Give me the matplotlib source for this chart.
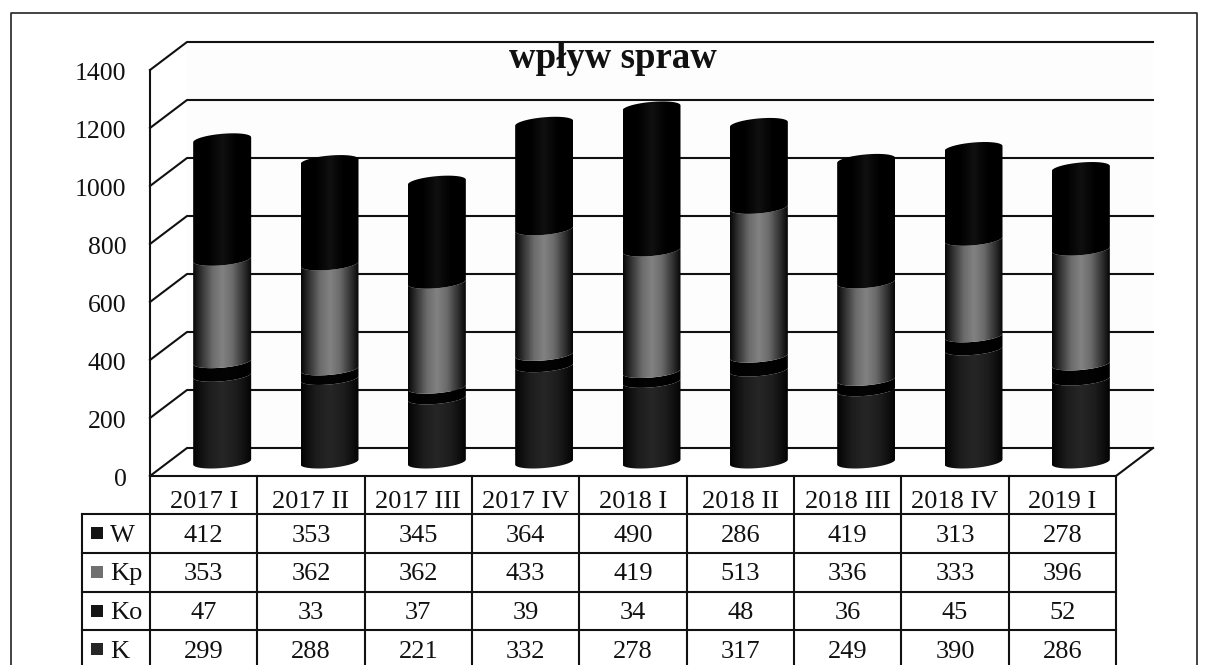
import numpy as np
import matplotlib.pyplot as plt
from matplotlib.colors import LinearSegmentedColormap
from matplotlib.patches import Polygon, Rectangle
from matplotlib.transforms import ScaledTranslation

plt.rcParams['font.family'] = ['Liberation Serif', 'DejaVu Serif']

quarters = ['2017 I', '2017 II', '2017 III', '2017 IV', '2018 I', '2018 II', '2018 III', '2018 IV', '2019 I']
w = [412, 353, 345, 364, 490, 286, 419, 313, 278]
kp = [353, 362, 362, 433, 419, 513, 336, 333, 396]
ko = [47, 33, 37, 39, 34, 48, 36, 45, 52]
k = [299, 288, 221, 332, 278, 317, 249, 390, 286]
yticks = [0, 200, 400, 600, 800, 1000, 1200, 1400]

W, H = 1208, 665
LW = 1.5
fs = 19

fig = plt.figure(figsize=(W / 100, H / 100), dpi=100)

# pixel layer for the frame and the data table
page = fig.add_axes([0, 0, 1, 1])
page.set_xlim(0, W)
page.set_ylim(H, 0)
page.axis('off')
page.plot([11, 11, 1197, 1197], [H + 5, 13, 13, H + 5], color='#222222', lw=1.2)

# chart axes sit on the front plane of the 3d box
left, right, y0, y1 = 150, 1116, 476, 70
ax = fig.add_axes([left / W, 1 - y0 / H, (right - left) / W, (y0 - y1) / H])
ax.set_xlim(0, 9)
ax.set_ylim(0, 1400)
ax.patch.set_alpha(0)
for s in ax.spines.values():
    s.set_visible(False)
ax.set_xticks([])
ax.set_yticks(yticks)
ax.tick_params(axis='y', length=0, pad=17, labelsize=18.5, labelcolor='#111111')
shift = ScaledTranslation(0, -2 / 100, fig.dpi_scale_trans)
for lbl in ax.get_yticklabels():
    lbl.set_transform(lbl.get_transform() + shift)

# depth of the box in data units
dx = 37 / ((right - left) / 9)
dy = 28 / ((y0 - y1) / 1400)

ax.add_patch(Rectangle((dx, dy), 9, 1400, fc='#fdfdfd', ec='none', clip_on=False, zorder=0))
for v in yticks:
    ax.plot([0, dx, 9 + dx], [v, v + dy, v + dy], color='#111111', lw=LW, clip_on=False, zorder=1)
ax.plot([0, 0], [0, 1400], color='#111111', lw=LW, clip_on=False, zorder=1)
ax.plot([9, 9 + dx], [0, dy], color='#111111', lw=LW, clip_on=False, zorder=1)

# tilted ellipse of the cylinders
a = 29 / ((right - left) / 9)
b = 6 / ((y0 - y1) / 1400)
tilt = 2.5 / ((y0 - y1) / 1400)
t_low = np.linspace(np.pi, 2 * np.pi, 40)
t_up = np.linspace(0, np.pi, 40)

cm_w = LinearSegmentedColormap.from_list('w', ['#000000', '#000000', '#101010', '#000000', '#000000'])
cm_kp = LinearSegmentedColormap.from_list('kp', ['#080808', '#3c3c3c', '#6c6c6c', '#828282', '#6c6c6c', '#3c3c3c', '#080808'])
cm_ko = LinearSegmentedColormap.from_list('ko', ['#000000', '#040404', '#000000'])
cm_k = LinearSegmentedColormap.from_list('k', ['#040404', '#1c1c1c', '#262626', '#1c1c1c', '#040404'])
grad = np.linspace(0, 1, 64).reshape(1, -1)


def segment(cx, base, v0, v1, cmap, top=False):
    lx = cx + a * np.cos(t_low)
    low0 = base + v0 + b * np.sin(t_low) + tilt * np.cos(t_low)
    low1 = base + v1 + b * np.sin(t_low) + tilt * np.cos(t_low)
    if top:
        ux = cx + a * np.cos(t_up)
        uy = base + v1 + b * np.sin(t_up) + tilt * np.cos(t_up)
        xs = np.r_[lx, ux]
        ys = np.r_[low0, uy]
    else:
        xs = np.r_[lx, lx[::-1]]
        ys = np.r_[low0, low1[::-1]]
    poly = Polygon(np.c_[xs, ys], transform=ax.transData, fc='none', ec='none')
    ax.add_patch(poly)
    im = ax.imshow(grad, extent=[cx - a, cx + a, base + v0 - 3 * b, base + v1 + 3 * b],
                   aspect='auto', cmap=cmap, vmin=0, vmax=1, zorder=3)
    im.set_clip_path(poly)
    im.set_clip_on(True)


for i in range(len(quarters)):
    cx = i + 0.5 + dx / 2
    base = dy / 2
    v = 0
    for vals, cmap, is_top in [(k, cm_k, False), (ko, cm_ko, False), (kp, cm_kp, False), (w, cm_w, True)]:
        segment(cx, base, v, v + vals[i], cmap, is_top)
        v += vals[i]

ax.set_xlim(0, 9)
ax.set_ylim(0, 1400)

fig.text(613 / W, 1 - 68 / H, 'wpływ spraw', fontsize=26.5, fontweight='bold', ha='center', va='baseline', color='#111111')

# data table
col_w = (right - left) / 9
row_y = [514, 552.5, 591.5, 630]
row_names = ['W', 'Kp', 'Ko', 'K']
row_vals = [w, kp, ko, k]
key_cols = ['#141414', '#707070', '#141414', '#262626']

page.plot([left, right], [y0, y0], color='#111111', lw=LW)
for y in row_y:
    page.plot([82, right], [y, y], color='#111111', lw=LW)
page.plot([82, 82], [514, H + 5], color='#111111', lw=LW)
for i in range(10):
    xc = left + i * col_w
    page.plot([xc, xc], [y0, H + 5], color='#111111', lw=LW)
for i, q in enumerate(quarters):
    page.text(left + (i + 0.5) * col_w, 508, q, fontsize=fs, ha='center', va='baseline', color='#111111')
for r, name in enumerate(row_names):
    yb = row_y[r] + 27.5
    page.add_patch(Rectangle((91, row_y[r] + 13), 12, 12, fc=key_cols[r], ec='none'))
    page.text(110, yb, name, fontsize=fs, ha='left', va='baseline', color='#111111')
    for i in range(len(quarters)):
        page.text(left + (i + 0.5) * col_w, yb, str(row_vals[r][i]), fontsize=fs,
                  ha='center', va='baseline', color='#111111')
page.set_xlim(0, W)
page.set_ylim(H, 0)

fig.savefig('out.png', dpi=100)
